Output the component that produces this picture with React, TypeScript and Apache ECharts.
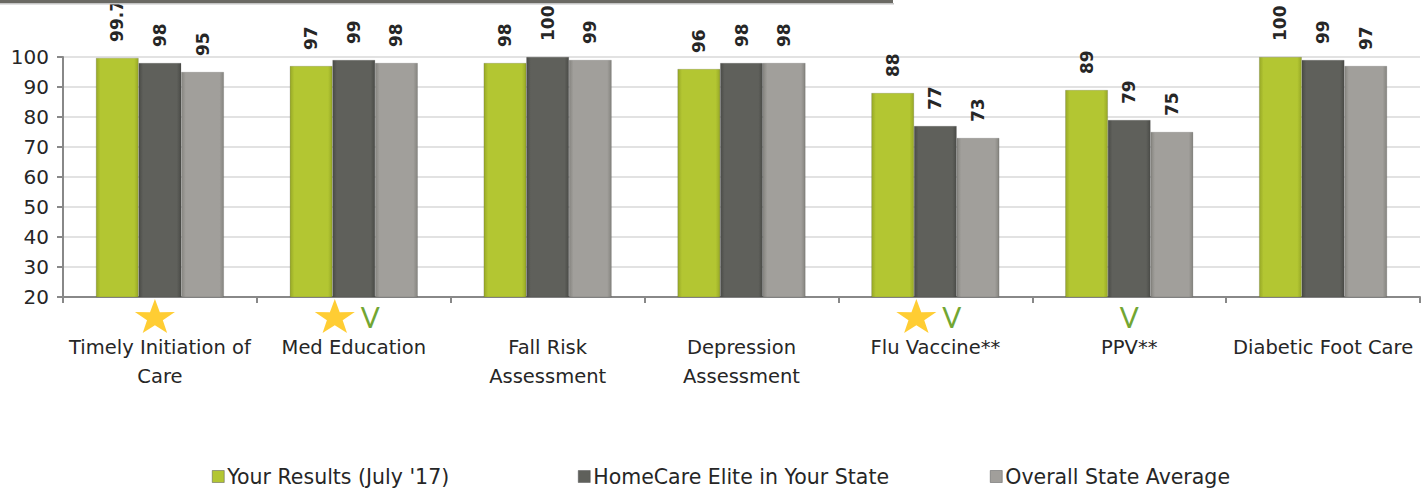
import React, { useEffect, useRef } from "react";
import * as echarts from "echarts";

const categories = [
  "Timely Initiation of\nCare",
  "Med Education",
  "Fall Risk\nAssessment",
  "Depression\nAssessment",
  "Flu Vaccine**",
  "PPV**",
  "Diabetic Foot Care",
];
const stars = [true, true, false, false, true, false, false];
const checks = [false, true, false, false, true, true, false];

const seriesNames = ["Your Results (July '17)", "HomeCare Elite in Your State", "Overall State Average"];
const yourResults = [99.7, 97, 98, 96, 88, 89, 100];
const eliteState = [98, 99, 100, 98, 77, 79, 99];
const stateAverage = [95, 98, 99, 98, 73, 75, 97];

const yTicks = { min: 20, max: 100, interval: 10 };

const FONT = "'DejaVu Sans', 'Noto Sans', sans-serif";
const STAR_PATH =
  "path://M50,0 L61.8,35.1 L98.1,34.5 L69,56.3 L79.4,90.5 L50,70 L20.6,90.5 L31,56.3 L1.9,34.5 L38.2,35.1 Z";

function grad(edge: string, mid: string) {
  return new echarts.graphic.LinearGradient(0, 0, 1, 0, [
    { offset: 0, color: edge },
    { offset: 0.1, color: mid },
    { offset: 0.9, color: mid },
    { offset: 1, color: edge },
  ]);
}

export default function App() {
  const ref = useRef<HTMLDivElement>(null);
  useEffect(() => {
    if (!ref.current) return;
    const chart = echarts.init(ref.current, undefined, { renderer: "svg" });
    const colors = [
      grad("#97A826", "#B3C632"),
      grad("#4A4B47", "#5F605B"),
      grad("#85847F", "#A19F9B"),
    ];
    const legendColors = ["#B3C632", "#5F605B", "#A19F9B"];
    const dataSets = [yourResults, eliteState, stateAverage];
    const legendLeft = [207, 573, 985];

    const starData = stars
      .map((s, i) =>
        s ? { value: [i, 0.5], symbolOffset: [checks[i] ? -19 : -5, 0] } : null
      )
      .filter((d) => d !== null);

    const option: any = {
      animation: false,
      textStyle: { fontFamily: FONT },
      graphic: [
        { type: "rect", shape: { x: 0, y: 0, width: 893, height: 3 }, style: { fill: "#6A6963" }, z: 100 },
        { type: "rect", shape: { x: 0, y: 3, width: 894, height: 1.5 }, style: { fill: "#C4C4C4" }, z: 100 },
      ],
      legend: seriesNames.map((n, i) => ({
        data: [{ name: n, itemStyle: { color: legendColors[i], borderColor: "#555", borderWidth: 0.5 } }],
        left: legendLeft[i],
        top: 461,
        icon: "rect",
        itemWidth: 12,
        itemHeight: 12,
        itemGap: 8,
        textStyle: { fontSize: 20.5, color: "#262626", fontFamily: FONT, padding: [0, 0, 0, -2] },
      })),
      grid: [
        { left: 63, right: 7, top: 57, bottom: 192 },
        { left: 63, right: 7, top: 300, height: 32 },
      ],
      xAxis: [
        {
          type: "category",
          data: categories,
          axisLine: { lineStyle: { color: "#888888", width: 2 } },
          axisTick: { show: true, length: 6, lineStyle: { color: "#888888", width: 2 } },
          axisLabel: {
            interval: 0,
            margin: 4,
            formatter: (val: string, idx: number) => {
              let top = "{e| }";
              if (checks[idx]) top = stars[idx] ? "{vs|V}" : "{v|V}";
              const lines = val.split("\n").map((l) => "{t|" + l + "}");
              return [top, ...lines].join("\n");
            },
            rich: {
              v: { fontSize: 28, color: "#72A632", lineHeight: 32, fontFamily: "Lato, sans-serif" },
              vs: {
                fontSize: 28,
                color: "#72A632",
                lineHeight: 32,
                fontFamily: "Lato, sans-serif",
                padding: [0, 0, 0, 33],
              },
              e: { fontSize: 10, lineHeight: 32 },
              t: { fontSize: 19.5, color: "#262626", lineHeight: 29, fontFamily: FONT },
            },
          },
        },
        {
          type: "category",
          gridIndex: 1,
          data: categories,
          show: false,
        },
      ],
      yAxis: [
        {
          type: "value",
          min: yTicks.min,
          max: yTicks.max,
          interval: yTicks.interval,
          axisLine: { show: true, lineStyle: { color: "#888888", width: 2 } },
          axisTick: { show: true, length: 6, lineStyle: { color: "#888888", width: 2 } },
          splitLine: { lineStyle: { color: "#D9D9D9", width: 1.5 } },
          axisLabel: { fontSize: 20, color: "#262626", margin: 14, fontFamily: FONT },
        },
        { type: "value", gridIndex: 1, min: 0, max: 1, show: false },
      ],
      series: [
        ...seriesNames.map((n, i) => ({
          name: n,
          type: "bar",
          data: dataSets[i],
          barGap: "0%",
          barCategoryGap: "34%",
          itemStyle: { color: colors[i], borderColor: "rgba(60,60,60,0.35)", borderWidth: 0.5 },
          label: {
            show: true,
            position: "top",
            rotate: 90,
            align: "left",
            verticalAlign: "middle",
            distance: 16,
            fontSize: 17,
            fontWeight: "bold",
            color: "#262626",
            fontFamily: FONT,
          },
        })),
        {
          type: "scatter",
          xAxisIndex: 1,
          yAxisIndex: 1,
          data: starData,
          symbol: STAR_PATH,
          symbolSize: [40, 34],
          itemStyle: { color: "#FFC000" },
          silent: true,
          clip: false,
        },
      ],
    };
    chart.setOption(option);
    return () => chart.dispose();
  }, []);
  return (
    <div
      ref={ref}
      style={{ position: "fixed", left: 0, top: 0, width: 1427, height: 489, background: "#fff" }}
    />
  );
}
